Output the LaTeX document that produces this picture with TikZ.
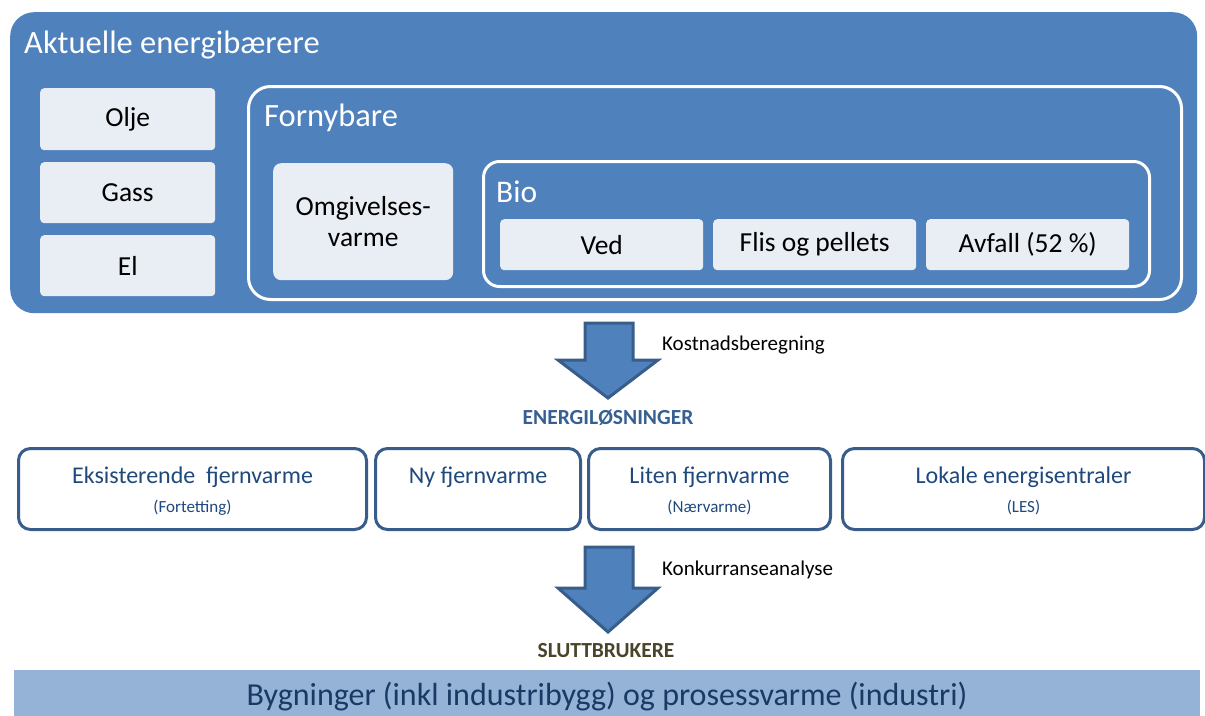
\documentclass[tikz,border=0pt]{standalone}
\usepackage{fontspec}
\setmainfont{Carlito}
\definecolor{mainblue}{HTML}{4F81BD}
\definecolor{darkblue}{HTML}{385D8A}
\definecolor{paleblue}{HTML}{E9EDF4}
\definecolor{barblue}{HTML}{95B3D7}
\definecolor{headblue}{HTML}{376092}
\definecolor{navy}{HTML}{1F497D}
\definecolor{olivetext}{HTML}{4A452A}
\newcommand{\fsz}[1]{\fontsize{#1}{#1}\selectfont}
\begin{document}
\begin{tikzpicture}[x=1pt,y=-1pt,
  palebox/.style={fill=paleblue, draw=none, rounded corners=4pt, anchor=north west, inner sep=0pt, align=center, font=\fsz{27.5}},
  whiteframe/.style={draw=white, line width=3pt, rounded corners=22pt, anchor=north west, inner sep=0pt},
  titletext/.style={anchor=west, text=white, inner sep=0pt},
  solbox/.style={draw=darkblue, line width=3pt, fill=white, rounded corners=12pt, anchor=north west, inner sep=0pt, minimum height=81pt},
  soltext/.style={text=navy, font=\fsz{24}, inner sep=0pt},
  solsub/.style={text=navy, font=\fsz{17}, inner sep=0pt},
  blockarrow/.style={fill=mainblue, draw=darkblue, line width=3pt, line join=miter},
  steplabel/.style={anchor=west, font=\fsz{21}, inner sep=0pt}
]
\useasboundingbox (0,0) rectangle (1205,715);

% main container
\node[fill=mainblue, rounded corners=24pt, minimum width=1187pt, minimum height=301pt, anchor=north west, inner sep=0pt] (main) at (10,12) {};
\node[titletext, font=\fsz{32.5}] (maintitle) at (24,45) {Aktuelle energibærere};

% fossil carriers
\node[palebox, minimum width=175pt, minimum height=62pt] (olje) at (40,88) {Olje};
\node[palebox, minimum width=175pt, minimum height=61pt] (gass) at (40,162) {Gass};
\node[palebox, minimum width=175pt, minimum height=61pt] (el) at (40,235) {El};

% renewables
\node[whiteframe, minimum width=933pt, minimum height=213pt] (forny) at (247,85) {};
\node[titletext, font=\fsz{32.5}] (fornytitle) at (264,118) {Fornybare};
\node[palebox, minimum width=180pt, minimum height=117pt, rounded corners=8pt] (omg) at (273,163) {Omgivelses-\\[3pt]varme};

% bio
\node[whiteframe, rounded corners=16pt, minimum width=666pt, minimum height=125pt] (bio) at (482,160) {};
\node[titletext, font=\fsz{31.5}] (biotitle) at (496,192) {Bio};
\node[palebox, minimum width=203pt, minimum height=51pt] (ved) at (500,219) {Ved};
\node[palebox, minimum width=203pt, minimum height=51pt] (flis) at (713,219) {Flis og pellets};
\node[palebox, minimum width=203pt, minimum height=51pt] (avfall) at (926,219) {Avfall (52 \%)};

% arrow 1
\draw[blockarrow] (585,323) -- (633,323) -- (633,360) -- (658,360) -- (608,398) -- (558,360) -- (585,360) -- cycle;
\node[steplabel] (kost) at (662,345) {Kostnadsberegning};
\node[font=\bfseries\fsz{21.5}, text=headblue, inner sep=0pt] (energi) at (608,418) {ENERGILØSNINGER};

% solutions
\node[solbox, minimum width=348pt] (r1) at (17,447) {};
\node[solbox, minimum width=205pt] (r2) at (374,447) {};
\node[solbox, minimum width=242pt] (r3) at (587,447) {};
\node[solbox, minimum width=362pt] (r4) at (841,447) {};
\node[soltext] (t1) at ([yshift=11.5pt]r1.center) {Eksisterende\ \ fjernvarme};
\node[solsub] (s1) at ([yshift=-18.5pt]r1.center) {(Fortetting)};
\node[soltext] (t2) at ([yshift=11.5pt]r2.center) {Ny fjernvarme};
\node[soltext] (t3) at ([yshift=11.5pt]r3.center) {Liten fjernvarme};
\node[solsub] (s3) at ([yshift=-18.5pt]r3.center) {(Nærvarme)};
\node[soltext] (t4) at ([yshift=11.5pt]r4.center) {Lokale energisentraler};
\node[solsub] (s4) at ([yshift=-18.5pt]r4.center) {(LES)};

% arrow 2
\draw[blockarrow] (585,547) -- (633,547) -- (633,588) -- (658,588) -- (608,632) -- (558,588) -- (585,588) -- cycle;
\node[steplabel] (konk) at (662,570) {Konkurranseanalyse};
\node[font=\bfseries\fsz{21.5}, text=olivetext, inner sep=0pt] (slutt) at (606,651) {SLUTTBRUKERE};

% end users bar
\node[fill=barblue, minimum width=1186pt, minimum height=46pt, anchor=north west, inner sep=0pt] (bar) at (14,670) {};
\node[text=navy!80!black, font=\fsz{32}, inner sep=0pt] (bartext) at (607,697) {Bygninger (inkl industribygg) og prosessvarme (industri)};
\end{tikzpicture}
\end{document}
